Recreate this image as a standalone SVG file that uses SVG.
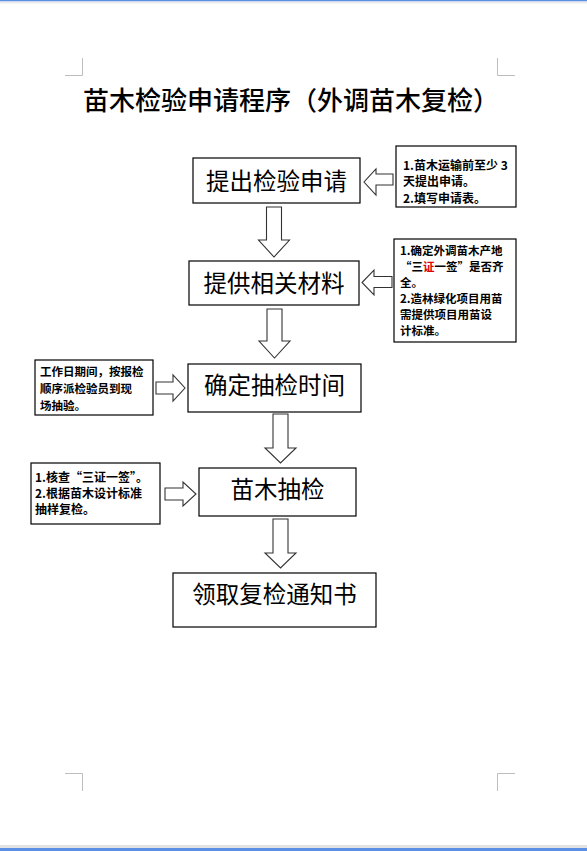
<svg xmlns="http://www.w3.org/2000/svg" width="587" height="851" viewBox="0 0 587 851">
<style>
.bg{fill:#ffffff}
.box{fill:#ffffff;stroke:#000000;stroke-width:1.2}
.arr{fill:#ffffff;stroke:#333333;stroke-width:1.1;stroke-linejoin:miter}
.mark{fill:none;stroke:#bdbdbd;stroke-width:1}
.main{font-family:"Noto Sans CJK SC","Noto Sans CJK JP",sans-serif;font-size:23.5px;fill:#000;text-anchor:middle;dominant-baseline:central}
.title{font-family:"Noto Sans CJK SC","Noto Sans CJK JP",sans-serif;font-size:26px;fill:#000;dominant-baseline:central;font-weight:500}
.side{font-family:"Noto Sans CJK SC","Noto Sans CJK JP",sans-serif;font-size:12px;font-weight:bold;fill:#000;dominant-baseline:central}
.sm{font-size:11.5px}
.red{fill:#e00000}
</style>
<rect class="bg" x="0" y="0" width="587" height="851"/>
<rect x="0" y="0" width="587" height="1.5" fill="#5b8fe6"/>
<rect x="0" y="1.5" width="587" height="2" fill="#ececec"/>
<rect x="0" y="845" width="587" height="3" fill="#e2e2e2"/>
<rect x="0" y="848" width="587" height="3" fill="#5b8fe6"/>
<g id="page-marks">
<path class="mark" d="M82.5 58 V75.5 H65"/>
<path class="mark" d="M497.5 58 V75.5 H515"/>
<path class="mark" d="M65 773.5 H82.5 V791"/>
<path class="mark" d="M515 773.5 H497.5 V791"/>
</g>
<text class="title" x="83" y="98">苗木检验申请程序（外调苗木复检）</text>
<g id="connectors">
<path class="arr" d="M266.5 207 H281.5 V240 H289.5 L274 257 L258.5 240 H266.5 Z"/>
<path class="arr" d="M267 309 H282 V341 H290 L274.5 358 L259 341 H267 Z"/>
<path class="arr" d="M273 414 H288 V448 H296 L280.5 463 L265 448 H273 Z"/>
<path class="arr" d="M273 519 H288 V553 H296 L280.5 568 L265 553 H273 Z"/>
<path class="arr" d="M393 174 V185 H376 V195 L364 182 L376 169 V174 Z"/>
<path class="arr" d="M392 276.5 V287.5 H374 V295 L362 282.5 L374 270 V276.5 Z"/>
<path class="arr" d="M156 382 V394 H173 V401 L185 388 L173 375 V382 Z"/>
<path class="arr" d="M165 488 V500 H183 V506 L196 494 L183 482 V488 Z"/>
</g>
<g id="node-apply">
<rect class="box" x="193" y="158" width="167" height="45"/>
<text class="main" x="276.5" y="180">提出检验申请</text>
</g>
<g id="node-materials">
<rect class="box" x="189" y="261" width="170" height="44"/>
<text class="main" x="274" y="282">提供相关材料</text>
</g>
<g id="node-schedule">
<rect class="box" x="188" y="364" width="173" height="48"/>
<text class="main" x="274.5" y="384">确定抽检时间</text>
</g>
<g id="node-sample">
<rect class="box" x="199" y="468" width="157" height="48"/>
<text class="main" x="277.5" y="488">苗木抽检</text>
</g>
<g id="node-notice">
<rect class="box" x="173" y="573" width="203" height="54"/>
<text class="main" x="274.5" y="593">领取复检通知书</text>
</g>
<g id="note-apply">
<rect class="box" x="396" y="146" width="120" height="61"/>
<text class="side" x="403" y="164">1.苗木运输前至少 3</text>
<text class="side" x="403" y="180.5">天提出申请。</text>
<text class="side" x="403" y="197">2.填写申请表。</text>
</g>
<g id="note-materials">
<rect class="box" x="394" y="239" width="122" height="103"/>
<text class="side sm" x="400" y="250">1.确定外调苗木产地</text>
<text class="side sm" x="400" y="266">“三<tspan class="red">证</tspan>一签”是否齐</text>
<text class="side sm" x="400" y="282">全。</text>
<text class="side sm" x="400" y="298">2.造林绿化项目用苗</text>
<text class="side sm" x="400" y="314">需提供项目用苗设</text>
<text class="side sm" x="400" y="330">计标准。</text>
</g>
<g id="note-schedule">
<rect class="box" x="35" y="360" width="118" height="55"/>
<text class="side sm" x="40" y="370.5">工作日期间，按报检</text>
<text class="side sm" x="40" y="387.5">顺序派检验员到现</text>
<text class="side sm" x="40" y="404.5">场抽验。</text>
</g>
<g id="note-sample">
<rect class="box" x="31" y="463" width="129" height="61"/>
<text class="side" x="35" y="476">1.核查“三证一签”。</text>
<text class="side" x="35" y="492">2.根据苗木设计标准</text>
<text class="side" x="35" y="508">抽样复检。</text>
</g>
</svg>
